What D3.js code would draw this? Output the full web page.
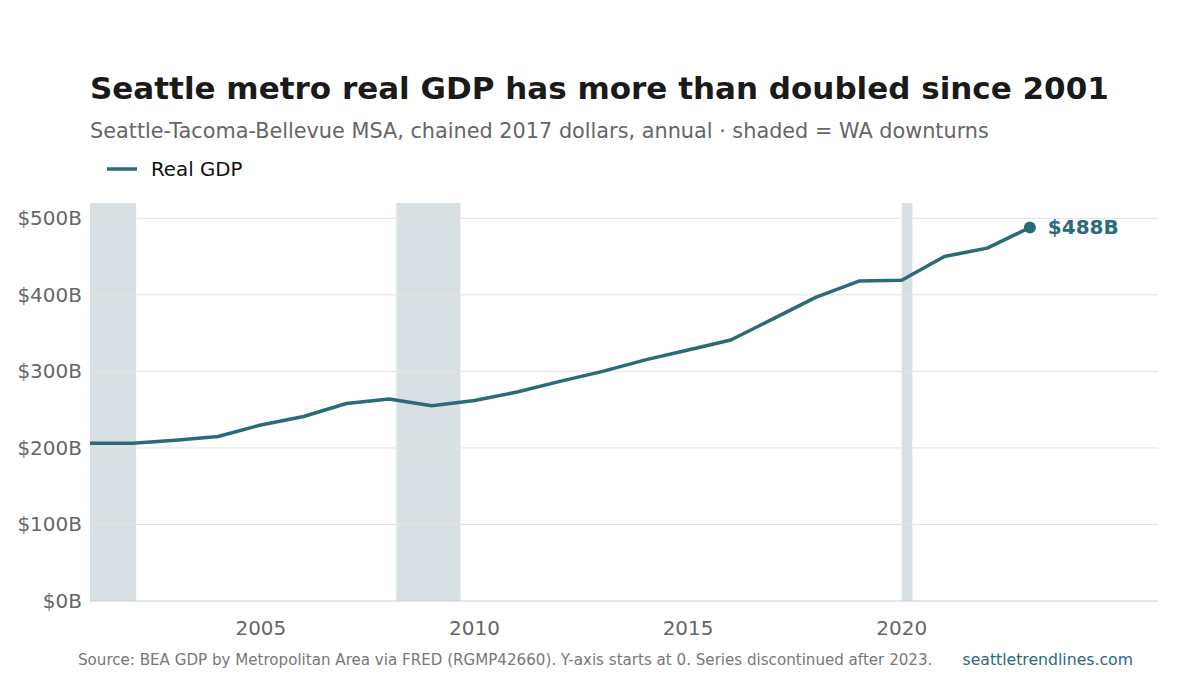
<!DOCTYPE html><html><head><meta charset="utf-8">
<script src="https://cdn.jsdelivr.net/npm/d3@7"></script>
<style>body{margin:0;background:#fff;font-family:"DejaVu Sans",sans-serif}</style>
</head><body><div id="chart"></div>
<script>
const years = d3.range(2001, 2024);
const gdp = [206,206,210,215,230,241,258,264,255,262,273,287,300,315,328,341,369,397,418,419,450,461,488];
const downturns = [[2001,2002.08],[2008.17,2009.67],[2020.0,2020.25]];
const yTicks = [0,100,200,300,400,500];
const xTicks = [2005,2010,2015,2020];

const W = 1200, H = 675;
const m = {left:90, right:42, top:203, bottom:74};
const color = "#2a6b78";
const svg = d3.select("#chart").append("svg").attr("width",W).attr("height",H);
const x = d3.scaleLinear().domain([2001,2026]).range([m.left, W-m.right]);
const y = d3.scaleLinear().domain([0,520]).range([H-m.bottom, m.top]);

svg.append("text").attr("x",90).attr("y",99).attr("font-size",31).attr("font-weight","bold").attr("fill","#1a1a1a")
  .text("Seattle metro real GDP has more than doubled since 2001");
svg.append("text").attr("x",90).attr("y",138).attr("font-size",20.8).attr("fill","#666")
  .text("Seattle-Tacoma-Bellevue MSA, chained 2017 dollars, annual · shaded = WA downturns");
svg.append("line").attr("x1",107).attr("x2",137).attr("y1",169).attr("y2",169).attr("stroke",color).attr("stroke-width",3.5);
svg.append("text").attr("x",151).attr("y",176).attr("font-size",19.8).attr("fill","#111").text("Real GDP");

svg.selectAll("rect.d").data(downturns).join("rect")
  .attr("x",d=>x(d[0])).attr("width",d=>x(d[1])-x(d[0]))
  .attr("y",m.top).attr("height",y(0)-m.top).attr("fill","#d9e0e3");

svg.selectAll("line.g").data(yTicks.slice(1)).join("line")
  .attr("x1",m.left).attr("x2",W-m.right).attr("y1",d=>y(d)).attr("y2",d=>y(d))
  .attr("stroke","#e3e3e3");
svg.append("line").attr("x1",m.left).attr("x2",W-m.right).attr("y1",y(0)).attr("y2",y(0)).attr("stroke","#ccc");

svg.selectAll("text.yt").data(yTicks).join("text")
  .attr("x",82).attr("y",d=>y(d)+7).attr("text-anchor","end").attr("font-size",20).attr("fill","#666")
  .text(d=>`$${d}B`);
svg.selectAll("text.xt").data(xTicks).join("text")
  .attr("x",d=>x(d)).attr("y",635).attr("text-anchor","middle").attr("font-size",20).attr("fill","#666")
  .text(d=>d);

svg.append("path").datum(years.map((yr,i)=>[yr,gdp[i]]))
  .attr("fill","none").attr("stroke",color).attr("stroke-width",3.5).attr("stroke-linejoin","round")
  .attr("d",d3.line().x(d=>x(d[0])).y(d=>y(d[1])));
const last = gdp.length-1;
svg.append("circle").attr("cx",x(years[last])).attr("cy",y(gdp[last])).attr("r",6).attr("fill",color);
svg.append("text").attr("x",x(years[last])+18).attr("y",y(gdp[last])+7).attr("font-size",20).attr("font-weight","bold")
  .attr("fill",color).text(`$${gdp[last]}B`);

svg.append("text").attr("x",78).attr("y",665).attr("font-size",15.1).attr("fill","#777")
  .text("Source: BEA GDP by Metropolitan Area via FRED (RGMP42660). Y-axis starts at 0. Series discontinued after 2023.");
svg.append("text").attr("x",1133).attr("y",665).attr("text-anchor","end").attr("font-size",15.7).attr("fill",color)
  .text("seattletrendlines.com");
</script></body></html>
